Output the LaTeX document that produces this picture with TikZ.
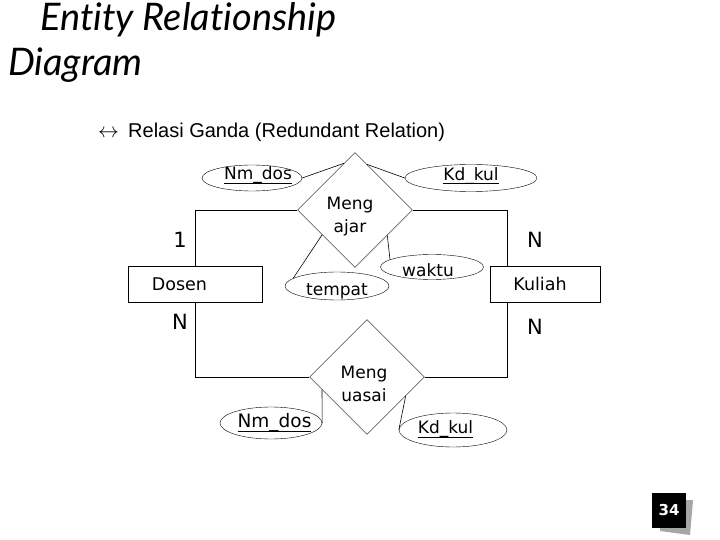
\documentclass[tikz,border=0pt]{standalone}
\usepackage{fontspec}
\setmainfont{DejaVu Sans}
\newfontfamily\titlefont[Ligatures={NoCommon}]{Lato}
\newfontfamily\subfont{Liberation Sans}
\usetikzlibrary{shapes.geometric,calc}
\newcommand\ulin[1]{\setbox0\hbox{#1}\rlap{\rule[-4pt]{\wd0}{1.1pt}}\box0}
\tikzset{
  ent/.style n args={2}{draw, rectangle, minimum width=134pt, minimum height=36pt, inner sep=0pt,
    label={[font=\fontsize{17.5}{17.5}\selectfont, xshift=#2]center:#1}},
  rel/.style n args={2}{draw, diamond, minimum width=115pt, minimum height=115pt, inner sep=0pt,
    label={[align=center, xshift=#2, yshift=-7pt, font=\fontsize{17}{23}\selectfont]center:{#1}}},
  attr/.style n args={4}{draw, ellipse, inner sep=0pt,
    label={[font=\fontsize{#4}{#4}\selectfont, xshift=#2, yshift=#3]center:#1}},
  card/.style={font=\fontsize{21}{21}\selectfont},
  conn/.style={draw, line width=0.6pt}
}
\begin{document}
\begin{tikzpicture}[x=1pt,y=-1pt]
\useasboundingbox (0,0) rectangle (720,540);
% title
\node[anchor=base west, inner sep=0pt, font=\titlefont\itshape\fontsize{38}{38}\selectfont] (t1) at (40,31) {Entity Relationship};
\node[anchor=base west, inner sep=0pt, font=\titlefont\itshape\fontsize{38}{38}\selectfont] (t2) at (8,76) {Diagram};
\node[anchor=base west, inner sep=0pt, font=\fontsize{20}{20}\selectfont] (arr) at (98,138) {$\leftrightarrow$};
\node[anchor=base west, inner sep=0pt, font=\subfont\fontsize{20}{20}\selectfont] (sub) at (128,138) {Relasi Ganda (Redundant Relation)};
% entities
\node[ent={Dosen}{-15.5pt}] (dosen) at (195,284) {};
\node[ent={Kuliah}{-5pt}, minimum width=110pt] (kuliah) at (545,284) {};
% relationships
\node[rel={Meng\\ajar}{-5pt}] (ajar) at (355,210) {};
\node[rel={Meng\\uasai}{-3pt}] (uasai) at (367,377) {};
% attributes
\node[attr={\ulin{Nm\_dos}}{6pt}{2.5pt}{17}, minimum width=100pt, minimum height=26pt] (nmdos1) at (252,178) {};
\node[attr={\ulin{Kd\_kul}}{0pt}{2pt}{17}, minimum width=132pt, minimum height=27pt] (kdkul1) at (471,178) {};
\node[attr={tempat}{0pt}{-5.5pt}{17}, minimum width=104pt, minimum height=28pt] (tempat) at (337,286) {};
\node[attr={waktu}{-4pt}{-3.5pt}{17}, minimum width=103pt, minimum height=25pt] (waktu) at (432,267) {};
\node[attr={\ulin{Nm\_dos}}{3.5pt}{0pt}{18.5}, minimum width=102pt, minimum height=32pt] (nmdos2) at (271,423) {};
\node[attr={\ulin{Kd\_kul}}{-7.5pt}{0.5pt}{17}, minimum width=108pt, minimum height=34pt] (kdkul2) at (453,430) {};
% connectors
\coordinate (kx) at ($(kuliah.north west)+(17,0)$);
\coordinate (kxs) at ($(kuliah.south west)+(17,0)$);
\draw[conn] (ajar.west) -| (dosen.north);
\draw[conn] (ajar.east) -| (kx);
\draw[conn] (dosen.south) |- (uasai.west);
\draw[conn] (uasai.east) -| (kxs);
\draw[conn] (nmdos1.east) -- ($(ajar.north)!0.19!(ajar.west)$);
\draw[conn] ($(ajar.north)!0.21!(ajar.east)$) -- (kdkul1.west);
\draw[conn] ($(ajar.west)!0.43!(ajar.south)$) -- (tempat.170);
\draw[conn] ($(ajar.east)!0.44!(ajar.south)$) -- (waktu.170);
\draw[conn] ($(uasai.west)!0.22!(uasai.south)$) -- (nmdos2.east);
\draw[conn] ($(uasai.east)!0.33!(uasai.south)$) -- (kdkul2.west);
% cardinalities
\node[card] (c1) at (180,240) {1};
\node[card] (c2) at (535,240) {N};
\node[card] (c3) at (180,322) {N};
\node[card] (c4) at (535,327) {N};
% page number
\fill[gray!70] (660,500) -- (693,500) -- (690,535) -- (660,531) -- cycle;
\node[fill=black, text=white, minimum width=34pt, minimum height=35pt, inner sep=0pt, font=\bfseries\fontsize{15}{15}\selectfont] (pg) at (669,510.5) {34};
\end{tikzpicture}
\end{document}
